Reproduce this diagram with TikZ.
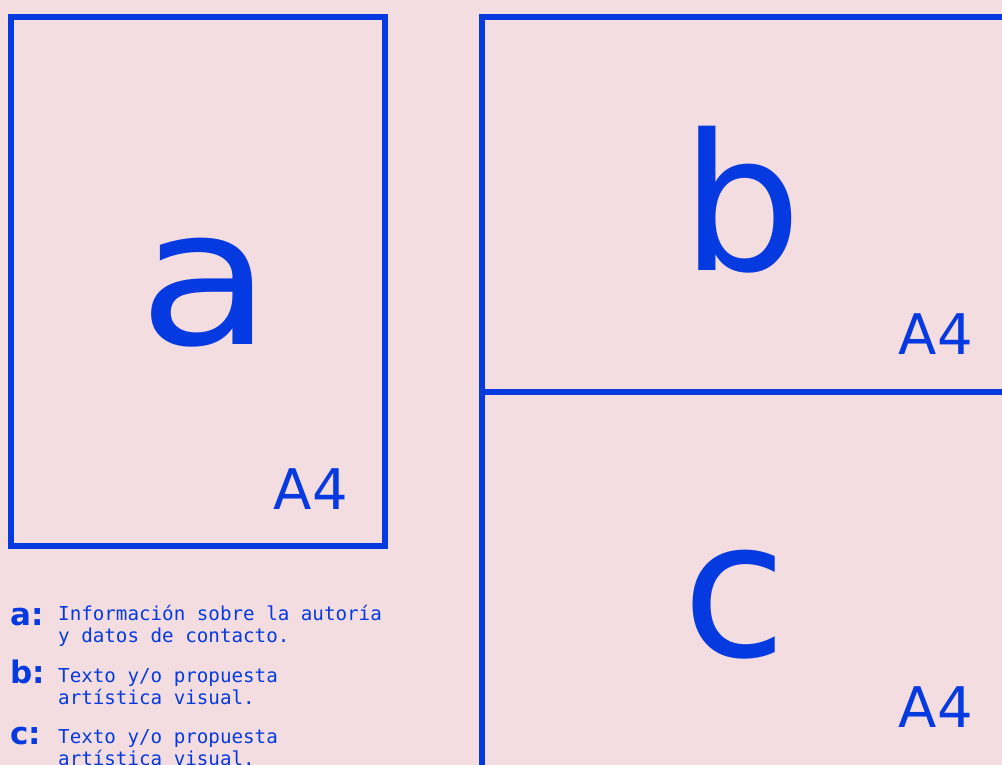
\documentclass[tikz,border=0pt]{standalone}
\usepackage{fontspec}
\setmainfont{DejaVu Sans}
\newfontfamily\bigfont{DejaVu Sans}
\newfontfamily\monofont{DejaVu Sans Mono}
\newfontfamily\labfont{DejaVu Sans Bold}
\definecolor{bg}{RGB}{244,221,225}
\definecolor{ink}{RGB}{5,58,225}
\tikzset{
  frame/.style={draw=ink, line width=5.5pt},
  bigletter/.style={inner sep=0pt, anchor=base, text=ink, font=\bigfont\fontsize{190}{190}\selectfont},
  sizelabel/.style={inner sep=0pt, anchor=base east, text=ink, font=\bigfont\fontsize{56}{56}\selectfont},
  keylabel/.style={inner sep=0pt, anchor=base west, text=ink, font=\labfont\fontsize{31}{31}\selectfont},
  keytext/.style={inner sep=0pt, anchor=base west, text=ink, font=\monofont\fontsize{19.2}{22}\selectfont},
}
\begin{document}
\begin{tikzpicture}[x=1pt,y=-1pt]
\fill[bg] (0,0) rectangle (1002,765);
\useasboundingbox (0,0) rectangle (1002,765);
% frames
\draw[frame] (11,17) rectangle (385,546);
\draw[frame] (482,17) rectangle (1012,768);
\draw[frame] (482,392) -- (1012,392);
% big letters
\node[bigletter] (a) at (205,344) {\scalebox{1.15}[1]{a}};
\node[bigletter] (b) at (742,270) {b};
\node[bigletter] (c) at (735,656) {c};
\node[sizelabel] (a4a) at (348,509) {A4};
\node[sizelabel] (a4b) at (973,354) {A4};
\node[sizelabel] (a4c) at (973,727) {A4};
% legend
\node[keylabel] (ka) at (10,625) {a:};
\node[keytext] (ta1) at (58,620) {Información sobre la autoría};
\node[keytext] (ta2) at (58,642) {y datos de contacto.};
\node[keylabel] (kb) at (10,683) {b:};
\node[keytext] (tb1) at (58,682) {Texto y/o propuesta};
\node[keytext] (tb2) at (58,704) {artística visual.};
\node[keylabel] (kc) at (10,744) {c:};
\node[keytext] (tc1) at (58,743) {Texto y/o propuesta};
\node[keytext] (tc2) at (58,765) {artística visual.};
\end{tikzpicture}
\end{document}
